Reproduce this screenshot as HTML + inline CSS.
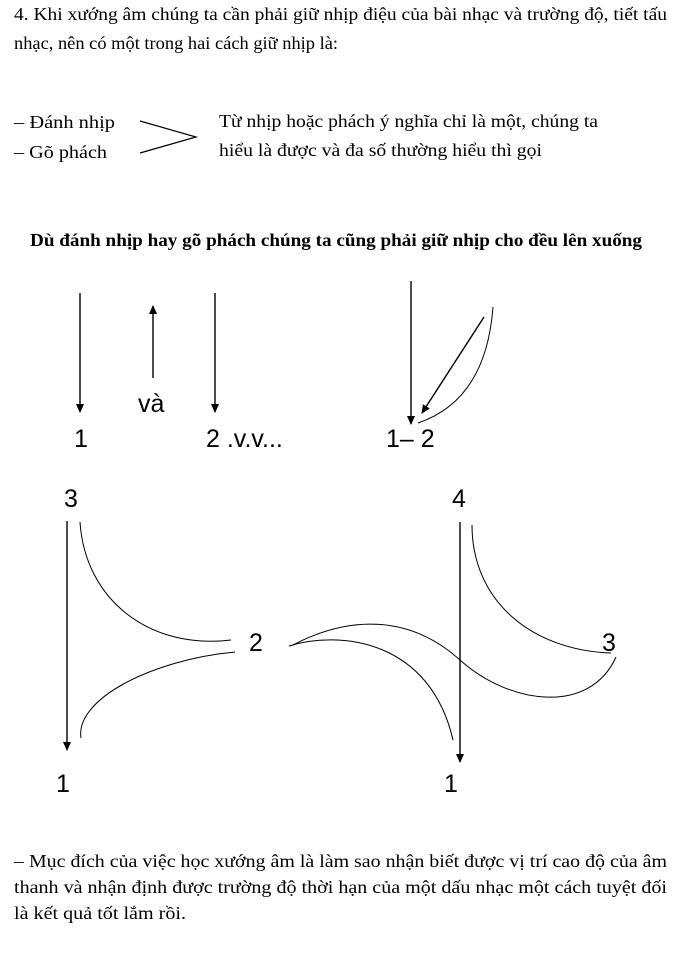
<!DOCTYPE html>
<html><head><meta charset="utf-8"><style>
html,body{margin:0;padding:0;background:#fff;}
svg{display:block;}
.t{font-family:"Liberation Serif","Noto Serif CJK SC",serif;font-size:18px;fill:#000;}
.b{font-weight:bold;}
.s{font-family:"Liberation Sans","DejaVu Sans",sans-serif;font-size:25px;fill:#000;}
</style></head><body>
<svg width="686" height="960" viewBox="0 0 686 960" xmlns="http://www.w3.org/2000/svg">
<defs><marker id="a" markerWidth="10" markerHeight="10" refX="8" refY="5" orient="auto" markerUnits="userSpaceOnUse"><path d="M0,1 L9,5 L0,9 Z" fill="#000"/></marker></defs>
<text class="t" x="14" y="20" textLength="653" lengthAdjust="spacingAndGlyphs">4.  Khi xướng âm chúng ta cần phải giữ nhịp điệu của bài nhạc và trường độ, tiết tấu</text>
<text class="t" x="14" y="49" textLength="324" lengthAdjust="spacingAndGlyphs">nhạc, nên có một trong hai cách giữ nhịp là:</text>
<text class="t" x="14" y="128" textLength="101" lengthAdjust="spacingAndGlyphs">– Đánh nhịp</text>
<text class="t" x="14" y="158" textLength="93" lengthAdjust="spacingAndGlyphs">– Gõ phách</text>
<polyline points="140,121 196,137 140,153" fill="none" stroke="#000" stroke-width="1.2"/>
<text class="t" x="219" y="127" textLength="379" lengthAdjust="spacingAndGlyphs">Từ nhịp hoặc phách ý nghĩa chỉ là một, chúng ta</text>
<text class="t" x="219" y="156" textLength="323" lengthAdjust="spacingAndGlyphs">hiểu là được và đa số thường hiểu thì gọi</text>
<text class="t b" x="30" y="246" textLength="612" lengthAdjust="spacingAndGlyphs">Dù đánh nhịp hay gõ phách chúng ta cũng phải giữ nhịp cho đều lên xuống</text>

<g stroke="#000" stroke-width="1.4" fill="none">
<line x1="80" y1="293" x2="80" y2="412" marker-end="url(#a)"/>
<line x1="153" y1="378" x2="153" y2="306" marker-end="url(#a)"/>
<line x1="215" y1="293" x2="215" y2="412" marker-end="url(#a)"/>
<line x1="411" y1="281" x2="411" y2="424" marker-end="url(#a)"/>
<line x1="484" y1="317" x2="422" y2="413" marker-end="url(#a)"/>
<path d="M493,307 Q486,400 418,423" stroke-width="1"/>

<line x1="67" y1="521" x2="67" y2="750" marker-end="url(#a)"/>
<path d="M80,522 C85,600 150,650 231,640" stroke-width="1"/>
<path d="M235,652 C150,660 75,700 81,738" stroke-width="1"/>
<line x1="460" y1="522" x2="460" y2="762" marker-end="url(#a)"/>
<path d="M472,525 C472,600 530,650 611,653" stroke-width="1"/>
<path d="M289,646 C340,630 430,640 453,740" stroke-width="1"/>
<path d="M293,645 C350,615 410,615 460,660 C510,705 590,715 616,657" stroke-width="1"/>
</g>
<text class="s" x="74" y="447">1</text>
<text class="s" x="138" y="412">và</text>
<text class="s" x="206" y="447">2 .v.v...</text>
<text class="s" x="386" y="447">1– 2</text>
<text class="s" x="64" y="507">3</text>
<text class="s" x="452" y="507">4</text>
<text class="s" x="249" y="651">2</text>
<text class="s" x="602" y="651">3</text>
<text class="s" x="56" y="792">1</text>
<text class="s" x="444" y="792">1</text>

<text class="t" x="14" y="867" textLength="653" lengthAdjust="spacingAndGlyphs">–  Mục đích của việc học xướng âm là làm sao nhận biết được vị trí cao độ của âm</text>
<text class="t" x="14" y="893" textLength="653" lengthAdjust="spacingAndGlyphs">thanh và nhận định được trường độ thời hạn của một dấu nhạc một cách tuyệt đối</text>
<text class="t" x="14" y="919" textLength="172" lengthAdjust="spacingAndGlyphs">là kết quả tốt lắm rồi.</text>
</svg>
</body></html>
